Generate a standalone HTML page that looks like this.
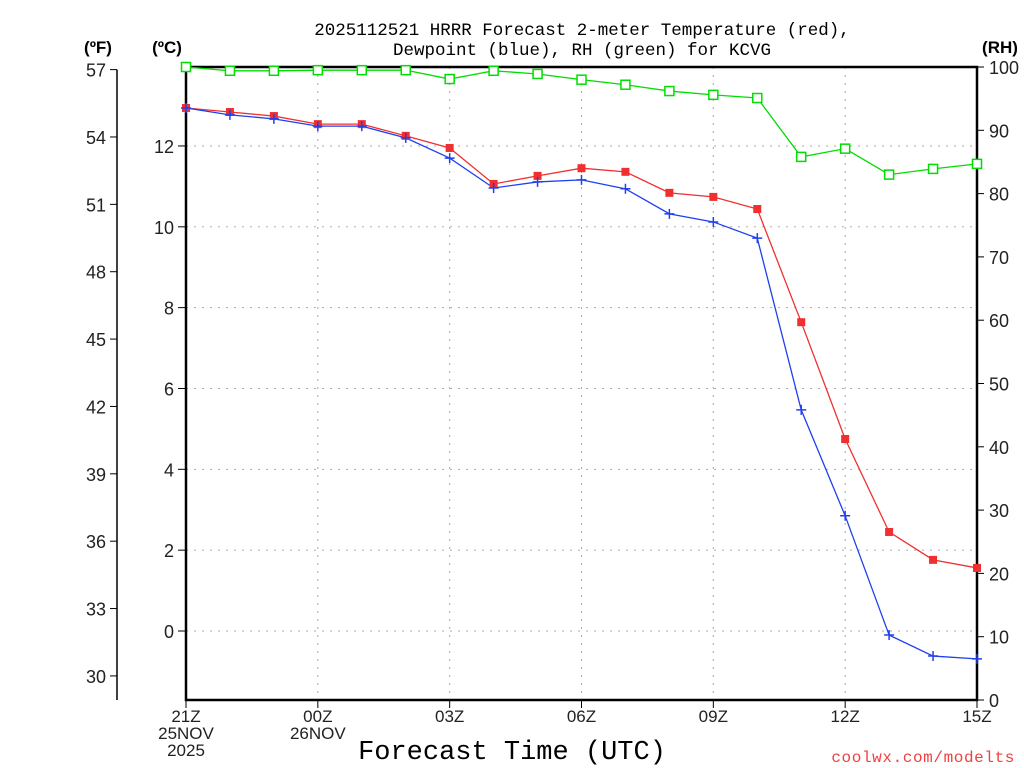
<!DOCTYPE html>
<html><head><meta charset="utf-8"><style>
body{margin:0;background:#fff;}
svg{display:block;font-family:"Liberation Sans",sans-serif;}
</style></head><body>
<svg id="c" width="1024" height="768">
<g font-size="17.5" text-anchor="middle" fill="#000" font-family="Liberation Mono, monospace">
<text x="582" y="35">2025112521 HRRR Forecast 2-meter Temperature (red),</text>
<text x="582" y="55">Dewpoint (blue), RH (green) for KCVG</text>
</g>
<text x="98" y="53" font-size="17" font-weight="bold" text-anchor="middle">(ºF)</text>
<text x="167" y="53" font-size="17" font-weight="bold" text-anchor="middle">(ºC)</text>
<text x="1000" y="53" font-size="17" font-weight="bold" text-anchor="middle">(RH)</text>
<g id="grid"></g><g id="axes"></g><g id="series"></g>
<text x="512" y="759" font-size="27" text-anchor="middle" font-family="Liberation Mono, monospace">Forecast Time (UTC)</text>
<text x="1015" y="762" font-size="16" fill="#f04040" text-anchor="end" letter-spacing="0.6" font-family="Liberation Mono, monospace">coolwx.com/modelts</text>
</svg>
<script>
const hours=[0,1,2,3,4,5,6,7,8,9,10,11,12,13,14,15,16,17,18];
const tempC=[12.94,12.84,12.74,12.54,12.54,12.25,11.95,11.06,11.26,11.45,11.36,10.84,10.74,10.44,7.64,4.75,2.45,1.76,1.56];
const dewC=[12.94,12.77,12.67,12.49,12.49,12.2,11.7,10.96,11.11,11.16,10.94,10.32,10.12,9.72,5.47,2.85,-0.1,-0.62,-0.69];
const rh=[100,99.4,99.4,99.5,99.5,99.5,98.1,99.4,98.9,98,97.2,96.2,95.6,95.1,85.8,87.1,83,83.9,84.7];
const cTicks=[0,2,4,6,8,10,12];
const fTicks=[30,33,36,39,42,45,48,51,54,57];
const rhTicks=[0,10,20,30,40,50,60,70,80,90,100];
const xTicks=[{h:0,l:["21Z","25NOV","2025"]},{h:3,l:["00Z","26NOV"]},{h:6,l:["03Z"]},{h:9,l:["06Z"]},{h:12,l:["09Z"]},{h:15,l:["12Z"]},{h:18,l:["15Z"]}];
const X0=186,X1=977,Y0=67,Y1=700;
const xs=h=>X0+(X1-X0)*h/18;
const yc=c=>631-c*40.42;
const yf=f=>yc((f-32)*5/9);
const yr=r=>Y1-(Y1-Y0)*r/100;
const NS="http://www.w3.org/2000/svg";
function mk(p,t,a){const e=document.createElementNS(NS,t);for(const k in a)e.setAttribute(k,a[k]);p.appendChild(e);return e;}
const grid=document.getElementById('grid'),axes=document.getElementById('axes'),ser=document.getElementById('series');
cTicks.forEach(c=>{const l=mk(grid,'line',{x1:X0,x2:X1,y1:yc(c),y2:yc(c),stroke:'#aaa','stroke-dasharray':'2,6'});

mk(axes,'line',{x1:X0-8,x2:X0,y1:yc(c),y2:yc(c),stroke:'#000'});
const tx=mk(axes,'text',{x:X0-12,y:yc(c)+7,'font-size':18,'text-anchor':'end',fill:'#222'});tx.textContent=c;
});
fTicks.forEach(f=>{mk(axes,'line',{x1:110,x2:117,y1:yf(f),y2:yf(f),stroke:'#000'});
const tx=mk(axes,'text',{x:106,y:yf(f)+7,'font-size':18,'text-anchor':'end',fill:'#222'});tx.textContent=f;
});
mk(axes,'line',{x1:117,x2:117,y1:yf(57),y2:Y1,stroke:'#000','stroke-width':1.5});
rhTicks.forEach(r=>{mk(axes,'line',{x1:X1,x2:X1+7,y1:yr(r),y2:yr(r),stroke:'#000'});
const tx=mk(axes,'text',{x:X1+12,y:yr(r)+7,'font-size':18,fill:'#222'});tx.textContent=r;
});
xTicks.forEach(t=>{const x=xs(t.h);
if(t.h>0&&t.h<18){const l=mk(grid,'line',{x1:x,x2:x,y1:Y0,y2:Y1,stroke:'#aaa','stroke-dasharray':'2,6'});
}
mk(axes,'line',{x1:x,x2:x,y1:Y1,y2:Y1+8,stroke:'#000'});
t.l.forEach((s,i)=>{const tx=mk(axes,'text',{x:x,y:722+i*17,'font-size':17,'text-anchor':'middle',fill:'#222'});tx.textContent=s;
});});
const fr=mk(axes,'rect',{x:X0,y:Y0,width:X1-X0,height:Y1-Y0,fill:'none',stroke:'#000','stroke-width':2.5});

function line(vals,fy,col,name){const p=mk(ser,'polyline',{points:vals.map((v,i)=>xs(hours[i])+','+fy(v)).join(' '),fill:'none',stroke:col,'stroke-width':1.3});
}
line(rh,yr,'#00dd00','rh-line');line(tempC,yc,'#f03030','temperature-line');line(dewC,yc,'#2040f0','dewpoint-line');
rh.forEach((v,i)=>{const r=mk(ser,'rect',{x:xs(hours[i])-4.5,y:yr(v)-4.5,width:9,height:9,fill:'#fff',stroke:'#00dd00','stroke-width':1.5});
});
tempC.forEach((v,i)=>{const r=mk(ser,'rect',{x:xs(hours[i])-4,y:yc(v)-4,width:8,height:8,fill:'#f03030'});
});
dewC.forEach((v,i)=>{const x=xs(hours[i]),y=yc(v);const p=mk(ser,'path',{d:`M${x-5},${y}H${x+5}M${x},${y-5}V${y+5}`,stroke:'#2040f0','stroke-width':1.5});
});
</script>
</body></html>
